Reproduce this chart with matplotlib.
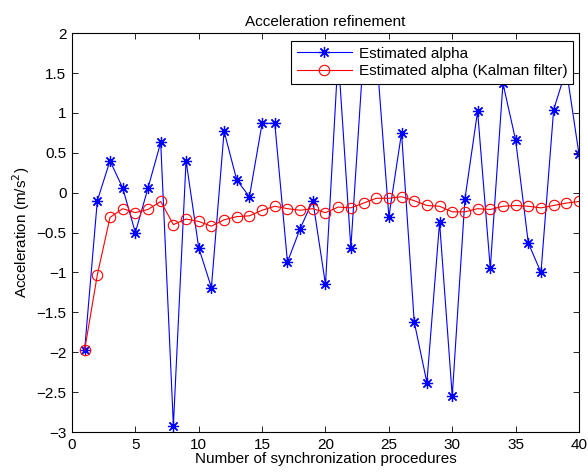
import matplotlib
matplotlib.use("Agg")
import matplotlib.pyplot as plt

# synchronization procedure index
steps = list(range(1, 41))

# raw estimate per procedure
alpha_raw = [-1.97, -0.10, 0.40, 0.06, -0.50, 0.06, 0.63, -2.92, 0.40, -0.69,
             -1.19, 0.77, 0.16, -0.05, 0.87, 0.87, -0.87, -0.45, -0.10, -1.15,
             1.72, -0.69, 1.75, 1.80, -0.30, 0.75, -1.62, -2.38, -0.37, -2.55,
             -0.08, 1.02, -0.95, 1.37, 0.66, -0.63, -1.00, 1.04, 1.55, 0.48]

# Kalman-filtered estimate
alpha_kf = [-1.97, -1.03, -0.31, -0.20, -0.25, -0.21, -0.11, -0.40, -0.33, -0.36,
            -0.42, -0.34, -0.30, -0.29, -0.22, -0.17, -0.20, -0.22, -0.20, -0.25,
            -0.18, -0.19, -0.13, -0.07, -0.07, -0.05, -0.10, -0.16, -0.17, -0.24,
            -0.24, -0.20, -0.21, -0.17, -0.16, -0.17, -0.19, -0.16, -0.13, -0.11]

plt.rcParams['font.family'] = ['Liberation Sans', 'DejaVu Sans']
plt.rcParams['font.size'] = 11

fig = plt.figure(figsize=(5.88, 4.74), dpi=100)
ax = fig.add_axes([0.1224, 0.0886, 0.8623, 0.8414])

# MATLAB-style asterisk: plus and cross overlaid
ax.plot(steps, alpha_raw, color='#0000ff', marker=(8, 2, 0), markersize=8,
        markeredgewidth=0.9, linewidth=0.8, label='Estimated alpha')
ax.plot(steps, alpha_kf, color='#ff0000', marker='o', markersize=7.5, markerfacecolor='none',
        markeredgewidth=0.8, linewidth=0.8, label='Estimated alpha (Kalman filter)')

ax.set_xlim(0, 40)
ax.set_ylim(-3, 2)
ax.set_xticks(range(0, 41, 5))
ax.set_yticks([-3, -2.5, -2, -1.5, -1, -0.5, 0, 0.5, 1, 1.5, 2])
ax.set_yticklabels(['\u22123', '\u22122.5', '\u22122', '\u22121.5', '\u22121', '\u22120.5',
                    '0', '0.5', '1', '1.5', '2'])
ax.tick_params(direction='in', top=True, right=True, length=4, width=0.6, labelsize=11, pad=4)
for s in ax.spines.values():
    s.set_linewidth(0.8)

ax.set_title('Acceleration refinement', fontsize=11, pad=5)
ax.set_xlabel('Number of synchronization procedures', labelpad=0)
ax.set_ylabel('Acceleration (m/s$^2$)', labelpad=3)

leg = ax.legend(loc='upper right', bbox_to_anchor=(0.9885, 0.98), fancybox=False,
                framealpha=1, edgecolor='black', borderpad=0.35, handlelength=3.6,
                handletextpad=0.5, labelspacing=0.25, borderaxespad=0, fontsize=11)
leg.get_frame().set_linewidth(0.8)

fig.savefig('out.png', dpi=100)
